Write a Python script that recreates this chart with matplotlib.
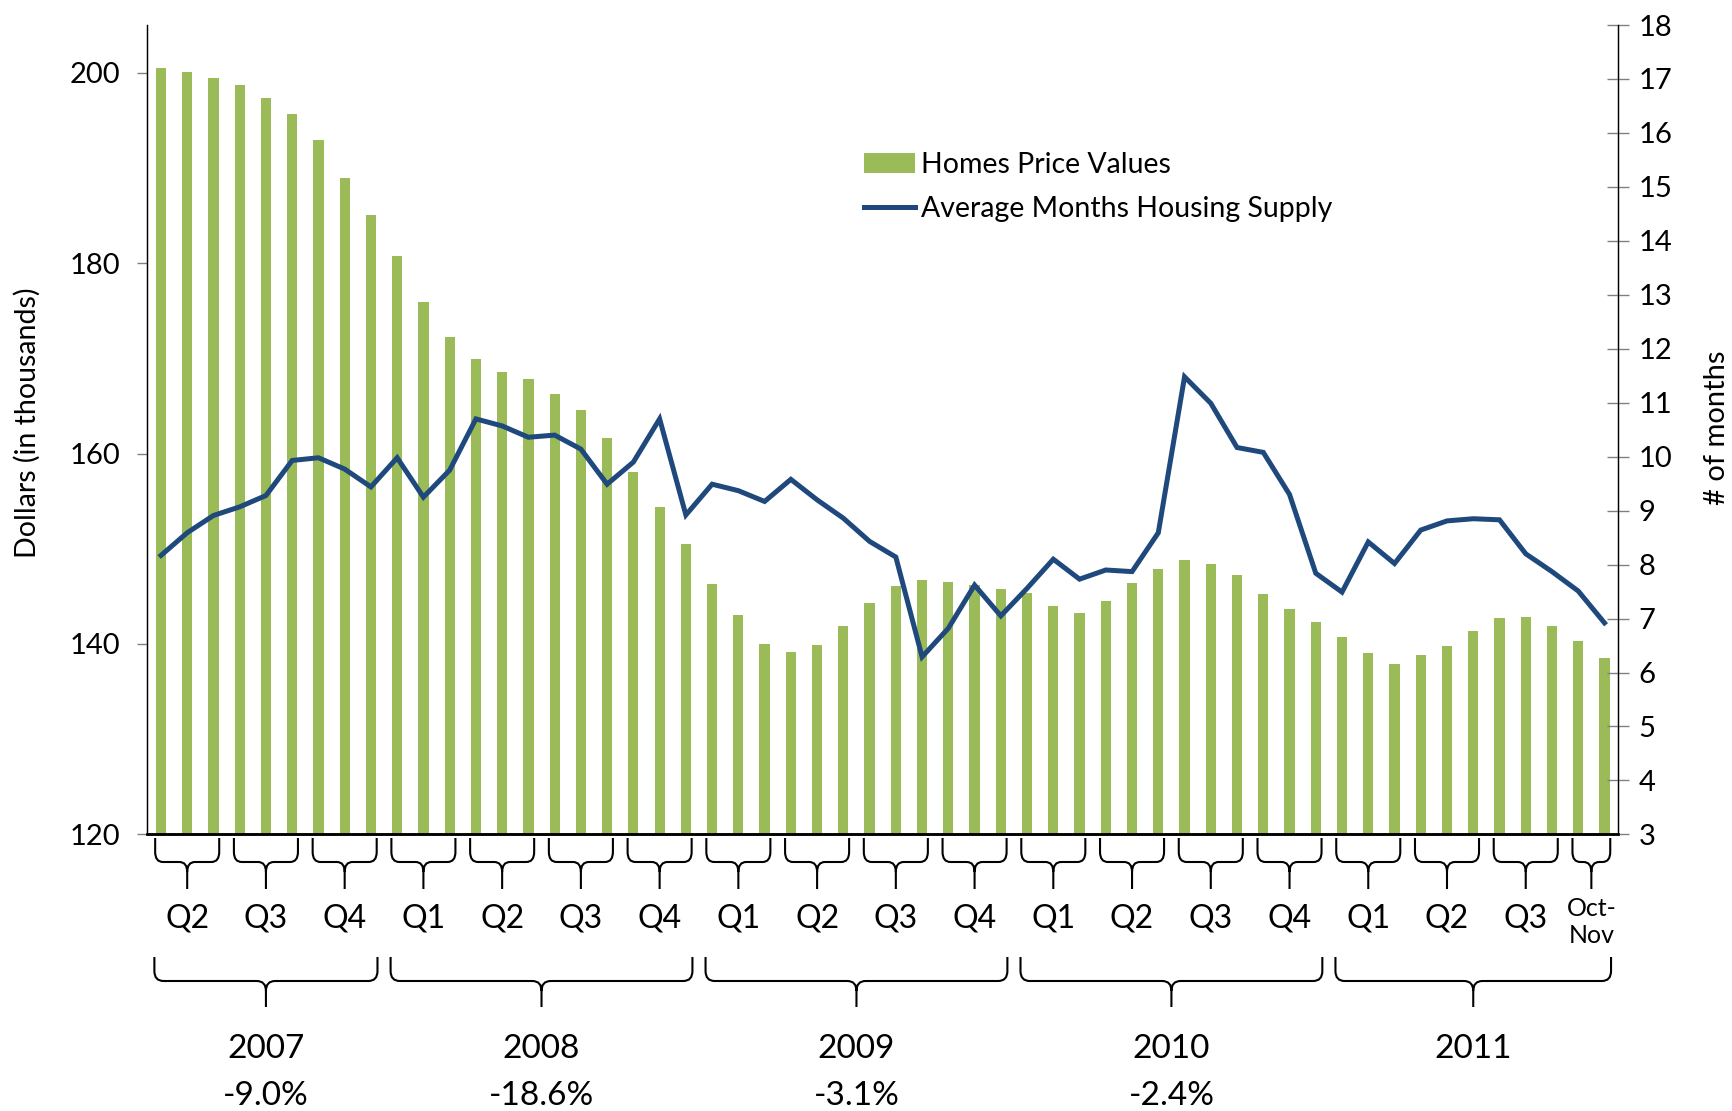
import matplotlib
matplotlib.use('Agg')
import matplotlib.pyplot as plt
from matplotlib.path import Path
from matplotlib.patches import PathPatch
from matplotlib.transforms import blended_transform_factory
import numpy as np

plt.rcParams['font.family'] = ['Lato', 'DejaVu Sans']

# monthly values, Apr 2007 .. Nov 2011
price_values = [200.5, 200.1, 199.4, 198.7, 197.3, 195.7, 192.9, 188.9, 185.0,
                180.7, 175.9, 172.2, 169.9, 168.6, 167.8, 166.3, 164.6, 161.6,
                158.1, 154.4, 150.5, 146.3, 143.0, 140.0, 139.2, 139.9, 141.9,
                144.3, 146.1, 146.7, 146.5, 146.2, 145.8, 145.3, 144.0, 143.3,
                144.5, 146.4, 147.9, 148.8, 148.4, 147.2, 145.2, 143.7, 142.3,
                140.7, 139.1, 137.9, 138.8, 139.8, 141.4, 142.7, 142.8, 141.9,
                140.3, 138.5]
supply_months = [8.17, 8.59, 8.91, 9.07, 9.28, 9.93, 9.98, 9.77, 9.44,
                 9.98, 9.25, 9.75, 10.70, 10.57, 10.36, 10.40, 10.14, 9.49,
                 9.90, 10.70, 8.92, 9.49, 9.37, 9.17, 9.58, 9.20, 8.86,
                 8.43, 8.14, 6.29, 6.82, 7.62, 7.05, 7.56, 8.10, 7.73,
                 7.90, 7.87, 8.59, 11.48, 10.99, 10.17, 10.08, 9.30, 7.84,
                 7.49, 8.42, 8.02, 8.64, 8.81, 8.85, 8.83, 8.20, 7.87,
                 7.51, 6.92]

quarter_labels = ['Q2', 'Q3', 'Q4',
                  'Q1', 'Q2', 'Q3', 'Q4',
                  'Q1', 'Q2', 'Q3', 'Q4',
                  'Q1', 'Q2', 'Q3', 'Q4',
                  'Q1', 'Q2', 'Q3', 'Oct-\nNov']
quarter_months = [3] * 18 + [2]

year_labels = ['2007', '2008', '2009', '2010', '2011']
year_changes = ['-9.0%', '-18.6%', '-3.1%', '-2.4%', '']
year_months = [9, 12, 12, 12, 11]

W, H = 1733, 1111
GREEN = '#9BBB59'
BLUE = '#1F497D'

fig = plt.figure(figsize=(W / 100, H / 100), dpi=100)
ax = fig.add_axes([147.3 / W, 1 - 834.4 / H, 1470.3 / W, 809.4 / H])
ax2 = ax.twinx()

x = np.arange(len(price_values))
bars = ax.bar(x, price_values, width=0.39, color=GREEN, zorder=2,
              label='Homes Price Values')
line, = ax2.plot(x, supply_months, color=BLUE, linewidth=3.6,
                 solid_joinstyle='miter', label='Average Months Housing Supply', zorder=3)

ax.set_xlim(-0.52, 55.5)
ax.set_ylim(120, 205)
ax.set_yticks([120, 140, 160, 180, 200])
ax2.set_ylim(3, 18)
ax2.set_yticks(range(3, 19))
ax.set_xticks([])

ax.tick_params(axis='y', direction='out', length=7.5, width=1, color='#808080',
               labelsize=21, pad=12)
ax2.tick_params(axis='y', direction='inout', length=16, width=1, color='#808080',
                labelsize=21, pad=7)

for a in (ax, ax2):
    a.spines['top'].set_visible(False)
    a.spines['left'].set_linewidth(0.9)
    a.spines['right'].set_linewidth(0.9)
    a.spines['bottom'].set_linewidth(1.8)
    a.patch.set_visible(False)

fig.text(27 / W, 1 - 423 / H, 'Dollars (in thousands)', rotation=90,
         ha='center', va='center', fontsize=20.5)
fig.text(1717 / W, 1 - 428 / H, '# of months', rotation=90,
         ha='center', va='center', fontsize=21)

ax2.legend([bars, line], ['Homes Price Values', 'Average Months Housing Supply'],
           loc='upper left', bbox_to_anchor=(864 / W, 1 - 152 / H),
           bbox_transform=fig.transFigure, frameon=False, fontsize=20.5,
           handlelength=1.8, handletextpad=0.2, labelspacing=0.62,
           borderpad=0, borderaxespad=0)

trans = blended_transform_factory(ax.transData, fig.transFigure)


def fy(py):
    return 1 - py / H


def brace(x0, x1, y_top, y_mid, y_tip, rx=0.3, ry=10):
    xm = (x0 + x1) / 2
    verts = [
        (x0, fy(y_top)), (x0, fy(y_mid - ry)),
        (x0, fy(y_mid)), (x0 + rx, fy(y_mid)),
        (xm - rx, fy(y_mid)),
        (xm, fy(y_mid)), (xm, fy(y_mid + ry)),
        (xm, fy(y_tip)),
        (xm, fy(y_mid + ry)),
        (xm, fy(y_mid)), (xm + rx, fy(y_mid)),
        (x1 - rx, fy(y_mid)),
        (x1, fy(y_mid)), (x1, fy(y_mid - ry)),
        (x1, fy(y_top)),
    ]
    codes = [Path.MOVETO, Path.LINETO,
             Path.CURVE3, Path.CURVE3,
             Path.LINETO,
             Path.CURVE3, Path.CURVE3,
             Path.LINETO,
             Path.MOVETO,
             Path.CURVE3, Path.CURVE3,
             Path.LINETO,
             Path.CURVE3, Path.CURVE3,
             Path.LINETO]
    p = PathPatch(Path(verts, codes), transform=trans, fill=False,
                  edgecolor='black', linewidth=1.5, clip_on=False)
    fig.add_artist(p)
    return xm


# quarter braces and labels
start = 0
for lab, n in zip(quarter_labels, quarter_months):
    end = start + n - 1
    xm = brace(start - 0.22, end + 0.22, 838, 862, 889)
    if '\n' in lab:
        ax.text(xm, fy(922), lab, transform=trans, ha='center', va='center',
                fontsize=18, linespacing=1.25, clip_on=False)
    else:
        ax.text(xm, fy(918), lab, transform=trans, ha='center', va='center',
                fontsize=23, clip_on=False)
    start = end + 1

# year braces and labels
start = 0
for lab, chg, n in zip(year_labels, year_changes, year_months):
    end = start + n - 1
    xm = brace(start - 0.25, end + 0.25, 957, 981, 1007, rx=0.35)
    ax.text(xm, fy(1049), lab, transform=trans, ha='center', va='center',
            fontsize=24, clip_on=False)
    if chg:
        ax.text(xm, fy(1096), chg, transform=trans, ha='center', va='center',
                fontsize=24, clip_on=False)
    start = end + 1

fig.savefig('out.png', dpi=100)
